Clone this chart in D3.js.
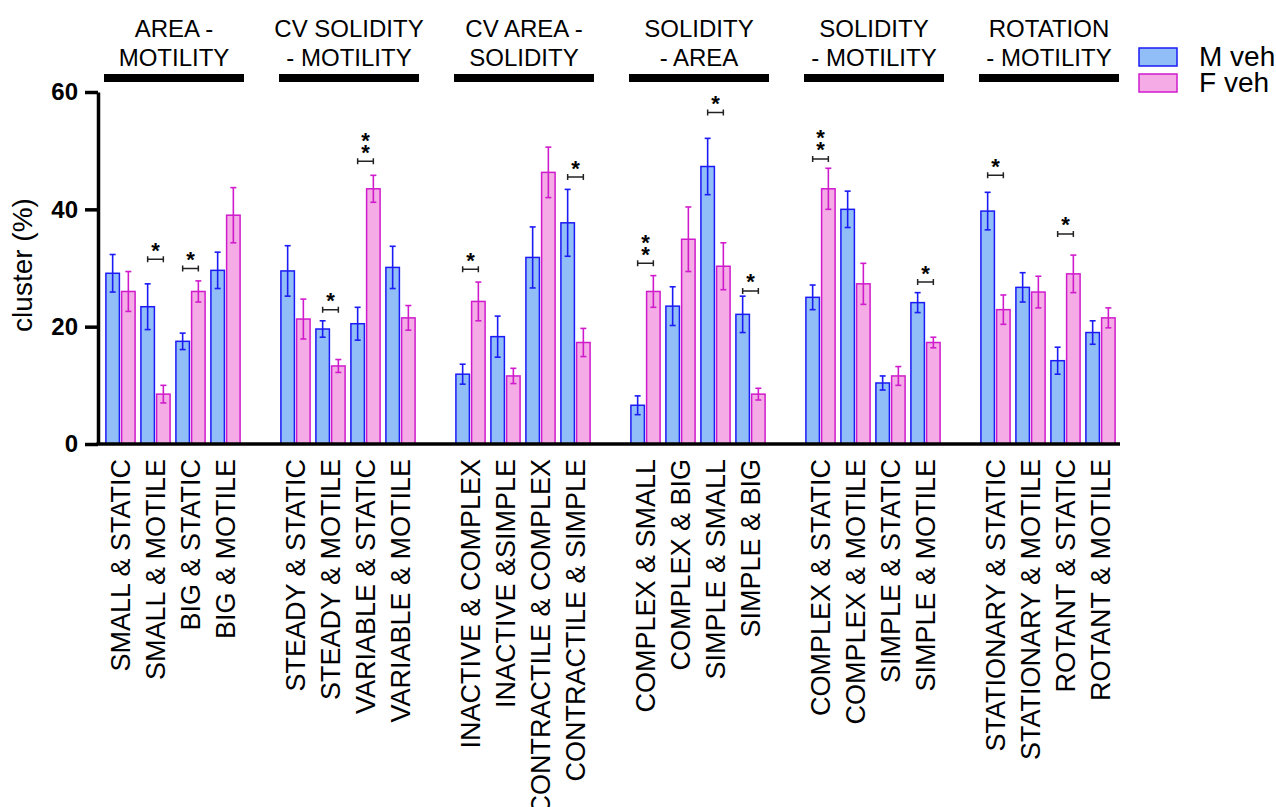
<!DOCTYPE html>
<html>
<head>
<meta charset="utf-8">
<script src="https://d3js.org/d3.v7.min.js"></script>
<style>
  body { margin: 0; background: #fff; }
  text { font-family: "Liberation Sans", Arial, sans-serif; fill: #000; }
</style>
</head>
<body>
<div id="chart"></div>
<script>
// group headers (two lines each)
const groupTitles = [
    ["AREA -", "MOTILITY"],
    ["CV SOLIDITY", "- MOTILITY"],
    ["CV AREA -", "SOLIDITY"],
    ["SOLIDITY", "- AREA"],
    ["SOLIDITY", "- MOTILITY"],
    ["ROTATION", "- MOTILITY"]
];

const categories = [
    "SMALL & STATIC", "SMALL & MOTILE", "BIG & STATIC", "BIG & MOTILE",
    "STEADY & STATIC", "STEADY & MOTILE", "VARIABLE & STATIC", "VARIABLE & MOTILE",
    "INACTIVE & COMPLEX", "INACTIVE &SIMPLE", "CONTRACTILE & COMPLEX", "CONTRACTILE & SIMPLE",
    "COMPLEX & SMALL", "COMPLEX & BIG", "SIMPLE & SMALL", "SIMPLE & BIG",
    "COMPLEX & STATIC", "COMPLEX & MOTILE", "SIMPLE & STATIC", "SIMPLE & MOTILE",
    "STATIONARY & STATIC", "STATIONARY & MOTILE", "ROTANT & STATIC", "ROTANT & MOTILE"
];

const mVeh    = [29.1, 23.4, 17.5, 29.6,  29.5, 19.6, 20.5, 30.1,  11.9, 18.3, 31.8, 37.7,  6.6, 23.5, 47.3, 22.1,  25.0, 40.0, 10.4, 24.1,  39.7, 26.7, 14.2, 19.0];
const mVehErr = [3.2, 3.9, 1.4, 3.1,  4.3, 1.4, 2.8, 3.6,  1.7, 3.5, 5.2, 5.7,  1.6, 3.3, 4.8, 3.1,  2.1, 3.1, 1.2, 1.7,  3.2, 2.5, 2.3, 2.0];
const fVeh    = [26.0, 8.5, 26.0, 39.0,  21.3, 13.3, 43.5, 21.5,  24.3, 11.6, 46.3, 17.3,  26.0, 34.9, 30.3, 8.5,  43.5, 27.3, 11.6, 17.3,  22.9, 25.9, 29.0, 21.5];
const fVehErr = [3.4, 1.5, 1.8, 4.7,  3.4, 1.1, 2.3, 2.1,  3.3, 1.3, 4.3, 2.4,  2.7, 5.5, 4.0, 1.0,  3.5, 3.5, 1.6, 0.9,  2.5, 2.7, 3.2, 1.7];

// significance: category, stars, bracket level (%)
const sigCats   = ["SMALL & MOTILE", "BIG & STATIC", "STEADY & MOTILE", "VARIABLE & STATIC",
                   "INACTIVE & COMPLEX", "CONTRACTILE & SIMPLE", "COMPLEX & SMALL", "SIMPLE & SMALL",
                   "SIMPLE & BIG", "COMPLEX & STATIC", "SIMPLE & MOTILE", "STATIONARY & STATIC", "ROTANT & STATIC"];
const sigStars  = [1, 1, 1, 2, 1, 1, 2, 1, 1, 2, 1, 1, 1];
const sigLevel  = [31.5, 29.9, 22.9, 48.2, 29.8, 45.5, 30.8, 56.5, 26.1, 48.6, 27.6, 45.8, 35.8];

const seriesNames = ["M veh", "F veh"];
const yTicks = [0, 20, 40, 60];

const fillColor = ["#92bef8", "#f5abe6"];
const strokeColor = ["#1b1bf5", "#d01bcc"];

const W = 1276, H = 807;

const svg = d3.select("#chart")
    .append("svg")
        .attr("width", W)
        .attr("height", H);

// slots: 4 categories per group + one empty slot between groups
const slots = [];
categories.forEach((c, i) => {
    slots.push(c);
    if (i % 4 === 3 && i < categories.length - 1) slots.push("gap" + i);
});

const x = d3.scaleBand()
    .domain(slots)
    .range([103, 1118])
    .padding(0);

const xs = d3.scaleBand()
    .domain(seriesNames)
    .range([0, x.bandwidth()])
    .paddingInner(0.14)
    .paddingOuter(0.185);

const y = d3.scaleLinear()
    .domain([0, 60])
    .range([444, 92]);

const rows = categories.map((c, i) => ({
    cat: c,
    vals: [
        {s: 0, key: seriesNames[0], v: mVeh[i], e: mVehErr[i]},
        {s: 1, key: seriesNames[1], v: fVeh[i], e: fVehErr[i]}
    ]
}));

// bars
const pair = svg.append("g")
    .selectAll("g")
    .data(rows)
    .join("g")
        .attr("transform", d => `translate(${x(d.cat)},0)`);

pair.selectAll("rect")
    .data(d => d.vals)
    .join("rect")
        .attr("x", d => xs(d.key))
        .attr("y", d => y(d.v))
        .attr("width", xs.bandwidth())
        .attr("height", d => y(0) - y(d.v))
        .attr("fill", d => fillColor[d.s])
        .attr("stroke", d => strokeColor[d.s])
        .attr("stroke-width", 1.5);

// error bars
const eb = pair.selectAll("g.err")
    .data(d => d.vals)
    .join("g")
        .attr("class", "err")
        .attr("stroke", d => strokeColor[d.s])
        .attr("stroke-width", 1.6)
        .attr("transform", d => `translate(${xs(d.key) + xs.bandwidth() / 2},0)`);

eb.append("line")
    .attr("y1", d => y(d.v + d.e))
    .attr("y2", d => y(d.v - d.e));
eb.append("line")
    .attr("x1", -3).attr("x2", 3)
    .attr("y1", d => y(d.v + d.e)).attr("y2", d => y(d.v + d.e));
eb.append("line")
    .attr("x1", -3).attr("x2", 3)
    .attr("y1", d => y(d.v - d.e)).attr("y2", d => y(d.v - d.e));

// significance brackets
const sig = svg.append("g")
    .selectAll("g")
    .data(sigCats.map((c, i) => ({cat: c, n: sigStars[i], lvl: sigLevel[i]})))
    .join("g")
        .attr("transform", d => `translate(${x(d.cat)},${y(d.lvl)})`);

const bx1 = xs("M veh") + xs.bandwidth() / 2;
const bx2 = xs("F veh") + xs.bandwidth() / 2;

sig.append("path")
    .attr("d", `M${bx1},-3V3M${bx1},0H${bx2}M${bx2},-3V3`)
    .attr("fill", "none")
    .attr("stroke", "#222")
    .attr("stroke-width", 1.5);

// stars stacked upward inside one text
sig.append("text")
    .attr("text-anchor", "middle")
    .style("font-size", "22px")
    .style("font-weight", "bold")
    .selectAll("tspan")
    .data(d => d3.range(d.n))
    .join("tspan")
        .attr("x", (bx1 + bx2) / 2)
        .attr("y", k => -1.5 - k * 12)
        .text("*");

// axes
const yAxis = svg.append("g")
    .attr("transform", "translate(98,0)")
    .call(d3.axisLeft(y).tickValues(yTicks).tickSize(13).tickSizeOuter(0).tickPadding(7));
yAxis.select(".domain").attr("stroke-width", 3.5).attr("stroke", "#000");
yAxis.selectAll(".tick line").attr("stroke-width", 3.5).attr("stroke", "#000");
yAxis.selectAll(".tick text")
    .style("font-size", "24px")
    .style("font-weight", "bold")
    .style("font-family", "'Liberation Sans', Arial, sans-serif")
    .attr("fill", "#000");

const xAxis = svg.append("g")
    .attr("transform", `translate(0,${y(0)})`)
    .call(d3.axisBottom(x).tickValues(categories).tickSize(0).tickSizeOuter(0));
xAxis.select(".domain")
    .attr("d", `M96.5,0H1120`)
    .attr("stroke-width", 3.5)
    .attr("stroke", "#000");
xAxis.selectAll(".tick text")
    .attr("transform", "rotate(-90)")
    .attr("x", -15)
    .attr("y", 0)
    .attr("dy", "0.36em")
    .attr("text-anchor", "end")
    .style("font-size", "27px")
    .style("font-family", "'Liberation Sans', Arial, sans-serif")
    .attr("fill", "#000");

// y label
svg.append("text")
    .attr("transform", "translate(32,265) rotate(-90)")
    .attr("text-anchor", "middle")
    .style("font-size", "28px")
    .text("cluster (%)");

// group headers
const header = svg.append("g")
    .selectAll("g")
    .data(groupTitles)
    .join("g");

header.append("rect")
    .attr("x", (d, i) => x(categories[i * 4]) + 1)
    .attr("y", 74)
    .attr("width", (d, i) => x(categories[i * 4 + 3]) + x.bandwidth() - x(categories[i * 4]))
    .attr("height", 8)
    .attr("fill", "#000");

header.each(function(d, i) {
    const cx = (x(categories[i * 4]) + x(categories[i * 4 + 3]) + x.bandwidth()) / 2 + 1;
    d.forEach((line, k) => {
        d3.select(this).append("text")
            .attr("x", cx)
            .attr("y", 37 + k * 28.5)
            .attr("text-anchor", "middle")
            .style("font-size", "24px")
            .text(line);
    });
});

// legend
const legend = svg.append("g")
    .selectAll("g")
    .data(seriesNames)
    .join("g")
        .attr("transform", (d, i) => `translate(1139,${48 + i * 26})`);

legend.append("rect")
    .attr("width", 38)
    .attr("height", 18)
    .attr("fill", (d, i) => fillColor[i])
    .attr("stroke", (d, i) => strokeColor[i])
    .attr("stroke-width", 1.5);

legend.append("text")
    .attr("x", 60)
    .attr("y", 18)
    .style("font-size", "28px")
    .text(d => d);
</script>
</body>
</html>
